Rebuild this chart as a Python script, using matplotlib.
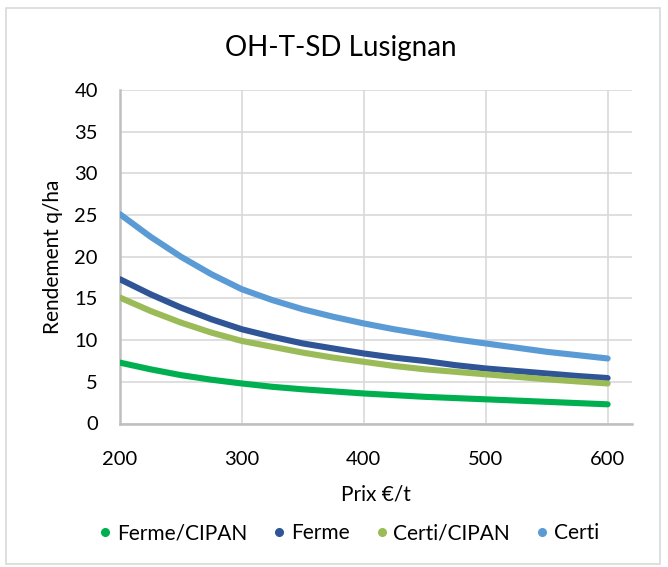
import matplotlib
matplotlib.use("Agg")
import matplotlib.pyplot as plt
from matplotlib.patches import Rectangle
from matplotlib.lines import Line2D

prix = [200, 225, 250, 275, 300, 325, 350, 375, 400, 425, 450, 475, 500, 525, 550, 575, 600]

ferme_cipan = [7.3, 6.5, 5.8, 5.25, 4.8, 4.4, 4.1, 3.85, 3.6, 3.4, 3.2, 3.05, 2.9, 2.75, 2.6, 2.45, 2.3]
ferme = [17.3, 15.5, 13.9, 12.5, 11.3, 10.4, 9.6, 9.0, 8.4, 7.9, 7.5, 7.0, 6.6, 6.3, 6.0, 5.7, 5.45]
certi_cipan = [15.1, 13.5, 12.1, 10.9, 9.9, 9.2, 8.5, 7.9, 7.4, 6.9, 6.5, 6.2, 5.9, 5.6, 5.3, 5.05, 4.8]
certi = [25.1, 22.4, 20.0, 17.9, 16.1, 14.8, 13.7, 12.8, 12.0, 11.3, 10.7, 10.1, 9.6, 9.1, 8.6, 8.2, 7.8]

series_names = ["Ferme/CIPAN", "Ferme", "Certi/CIPAN", "Certi"]
series_colors = ["#00B050", "#2F5597", "#9BBB59", "#5B9BD5"]

x_ticks = [200, 300, 400, 500, 600]
y_ticks = [0, 5, 10, 15, 20, 25, 30, 35, 40]

plt.rcParams["font.family"] = ["Lato", "DejaVu Sans"]

def main():
	fig = plt.figure(figsize=(6.68, 5.67), dpi=100)

	# outer chart frame
	fig.patches.append(Rectangle((6 / 668, 1 - 564 / 567), 654 / 668, 556 / 567,
		transform=fig.transFigure, fill=False, edgecolor="#D9D9D9", linewidth=1.2))

	ax = fig.add_axes([120 / 668, 1 - 423.5 / 567, 512 / 668, 333.5 / 567])

	all_series = [ferme_cipan, ferme, certi_cipan, certi]

	for vals, name, col in zip(all_series, series_names, series_colors):
		ax.plot(prix, vals, color=col, linewidth=4.4, solid_capstyle="round",
			solid_joinstyle="round", label=name, zorder=3)

	ax.set_xlim(200, 620)
	ax.set_ylim(0, 40)
	ax.set_xticks(x_ticks)
	ax.set_yticks(y_ticks)

	ax.grid(True, color="#D9D9D9", linewidth=1.2, zorder=0)
	ax.set_axisbelow(True)

	for s in ["top", "right"]:
		ax.spines[s].set_visible(False)

	for s in ["left", "bottom"]:
		ax.spines[s].set_color("#BFBFBF")
		ax.spines[s].set_linewidth(1.8)

	ax.tick_params(axis="both", length=0, labelsize=14.5, colors="#000000")
	ax.tick_params(axis="x", pad=20)
	ax.tick_params(axis="y", pad=16)

	ax.set_xlabel("Prix €/t", fontsize=15, labelpad=12)
	ax.set_ylabel("Rendement q/ha", fontsize=15, labelpad=8)

	fig.text(341 / 668, 1 - 48 / 567, "OH-T-SD Lusignan", fontsize=20,
		ha="center", va="center")

	handles = [Line2D([], [], linestyle="none", marker="o", markersize=5.5,
		color=c, label=n) for n, c in zip(series_names, series_colors)]

	fig.legend(handles=handles, loc="center", bbox_to_anchor=(347 / 668, 1 - 533 / 567),
		ncol=4, frameon=False, fontsize=15, handletextpad=0.05, columnspacing=1.05,
		handlelength=1.0)

	fig.savefig("out.png", dpi=100)
	plt.close(fig)

if (__name__ == "__main__"):
	main()
